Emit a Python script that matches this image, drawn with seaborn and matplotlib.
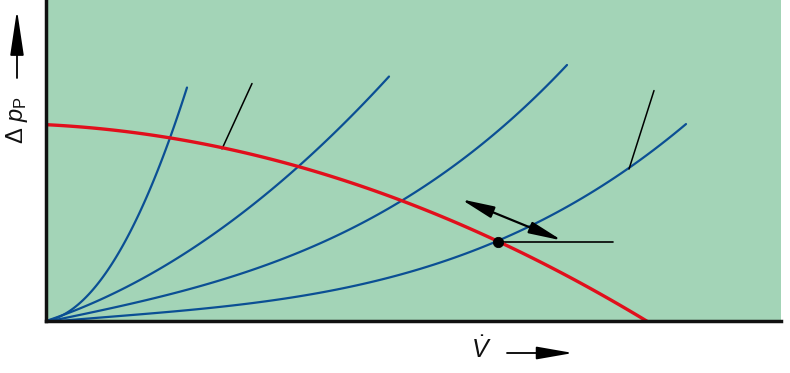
import matplotlib
matplotlib.use("Agg")
import matplotlib.pyplot as plt
import matplotlib.patches as mpatches
import seaborn as sns

# ---- data (flow vs. pressure in arbitrary units) ----
pump_q = [0, 25, 50, 75, 100, 125, 150, 175, 200, 225, 250, 275, 300, 325, 350,
          375, 400, 425, 450, 475, 500, 525, 550, 575, 602]
pump_h = [195, 193.5, 191.5, 188.8, 185.6, 181.9, 177.5, 172.6, 167.0, 160.9,
          154.2, 146.9, 139.1, 130.7, 121.7, 112.2, 102.0, 91.3, 80.0, 68.1,
          55.6, 42.6, 29.0, 14.8, 0]

sys1_q = [0, 20, 40, 60, 80, 100, 120, 141]
sys1_h = [0, 7.7, 23.7, 48, 80.7, 121.8, 171.2, 232]
sys2_q = [0, 40, 80, 120, 160, 200, 240, 280, 320, 343]
sys2_h = [0, 15, 33.5, 55.5, 81.2, 110.2, 142.8, 178.9, 218.5, 243]
sys3_q = [0, 50, 100, 150, 200, 250, 300, 350, 400, 450, 500, 521]
sys3_h = [0, 9, 19, 33, 50, 68, 90, 116, 147, 187, 233, 255]
sys4_q = [0, 50, 100, 150, 200, 250, 300, 350, 400, 450, 500, 550, 600, 640]
sys4_h = [0, 2.5, 6, 11, 17, 24, 34, 46, 61, 79, 101, 129, 164, 197]

op_q = [452]
op_h = [79]

leader_a_q = [176, 206]
leader_a_h = [171, 236]
leader_b_q = [583, 608]
leader_b_h = [151, 229]
hline_q = [452, 567]
hline_h = [79, 79]
arrow_start = (415, 121)
arrow_end = (516, 80)

BG = "#a3d4b7"
RED = "#e10f1c"
BLUE = "#0b4f94"

sns.set_style("white")
plt.rcParams["mathtext.fontset"] = "custom"
plt.rcParams["mathtext.rm"] = "Liberation Sans"
plt.rcParams["mathtext.it"] = "Liberation Sans:italic"
plt.rcParams["font.family"] = ["Liberation Sans", "DejaVu Sans"]

fig = plt.figure(figsize=(7.9, 3.73), dpi=100)
ax = fig.add_axes([46 / 790, (373 - 321) / 373, (781 - 46) / 790, 321 / 373])
ax.set_facecolor(BG)

for q, h in [(sys1_q, sys1_h), (sys2_q, sys2_h), (sys3_q, sys3_h), (sys4_q, sys4_h)]:
    sns.regplot(x=q, y=h, ax=ax, order=3, ci=None, scatter=False, truncate=True,
                line_kws=dict(color=BLUE, linewidth=1.6))

sns.lineplot(x=leader_a_q, y=leader_a_h, ax=ax, color="black", linewidth=1.1,
             estimator=None)
sns.lineplot(x=leader_b_q, y=leader_b_h, ax=ax, color="black", linewidth=1.1,
             estimator=None)
sns.lineplot(x=hline_q, y=hline_h, ax=ax, color="black", linewidth=1.2,
             estimator=None)

sns.regplot(x=pump_q, y=pump_h, ax=ax, order=2, ci=None, scatter=False,
            truncate=True, line_kws=dict(color=RED, linewidth=2.4))

ax.annotate("", xy=arrow_start, xytext=arrow_end,
            arrowprops=dict(arrowstyle="<|-|>,head_length=2.0,head_width=0.36",
                            color="black", lw=1.6, shrinkA=0, shrinkB=0,
                            mutation_scale=10))

sns.scatterplot(x=op_q, y=op_h, ax=ax, color="black", s=55, zorder=5,
                edgecolor="black")

ax.set_xlim(0, 735)
ax.set_ylim(0, 319)
ax.set_xticks([])
ax.set_yticks([])
ax.set_xlabel("")
ax.set_ylabel("")
for s in ["top", "right"]:
    ax.spines[s].set_visible(False)
for s in ["left", "bottom"]:
    ax.spines[s].set_color("#111111")
    ax.spines[s].set_linewidth(2.5)

# axis labels with arrows
fig.text(17 / 790, 1 - 120 / 373, r"$\Delta\ p_\mathrm{P}$", rotation=90,
         ha="center", va="center", fontsize=17, color="#111111")
fig.text(481 / 790, 1 - 350 / 373, r"$\dot{V}$", ha="center", va="center",
         fontsize=18, color="#111111")
fig.patches.append(mpatches.FancyArrowPatch(
    (17 / 790, 1 - 78 / 373), (17 / 790, 1 - 10 / 373),
    transform=fig.transFigure, arrowstyle="-|>,head_length=2.0,head_width=0.3",
    color="black", lw=1.3, mutation_scale=14, shrinkA=0, shrinkB=0))
fig.patches.append(mpatches.FancyArrowPatch(
    (507 / 790, 1 - 353 / 373), (573 / 790, 1 - 353 / 373),
    transform=fig.transFigure, arrowstyle="-|>,head_length=1.6,head_width=0.28",
    color="black", lw=1.3, mutation_scale=14, shrinkA=0, shrinkB=0))

fig.savefig("out.png", dpi=100, facecolor="white")
